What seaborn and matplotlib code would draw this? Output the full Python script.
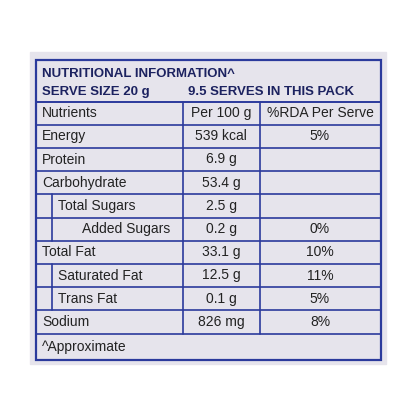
import matplotlib
matplotlib.use("Agg")
import matplotlib.pyplot as plt
import seaborn as sns

nutrients = ["Energy", "Protein", "Carbohydrate", "Total Sugars", "Added Sugars",
             "Total Fat", "Saturated Fat", "Trans Fat", "Sodium"]
per_100g = ["539 kcal", "6.9 g", "53.4 g", "2.5 g", "0.2 g",
            "33.1 g", "12.5 g", "0.1 g", "826 mg"]
rda_serve = ["5%", "", "", "", "0%", "10%", "11%", "5%", "8%"]
indent = [0, 0, 0, 1, 2, 0, 1, 1, 0]

sns.set_theme(style="white")
plt.rcParams['font.family'] = ['Liberation Sans', 'DejaVu Sans']

blue = "#2b3a9c"
fig = plt.figure(figsize=(4.16, 4.16), dpi=100)
ax = fig.add_axes([0, 0, 1, 1])
ax.set_xlim(0, 416)
ax.set_ylim(416, 0)
ax.axis("off")

# label background
ax.add_patch(plt.Rectangle((30, 52), 356, 312, color="#e6e4ec", zorder=0))

x0, c1, c2, x1 = 36, 183, 260, 381
ax.add_patch(plt.Rectangle((x0, 60), x1 - x0, 300, fill=False, ec=blue, lw=1.6))
ax.text(42, 74, "NUTRITIONAL INFORMATION^", fontsize=9.5, weight="bold", color="#1c2260", va="center")
ax.text(42, 92, "SERVE SIZE 20 g", fontsize=9.5, weight="bold", color="#1c2260", va="center")
ax.text(188, 92, "9.5 SERVES IN THIS PACK", fontsize=9.5, weight="bold", color="#1c2260", va="center")

top = 101.5
row_h = 23.2
ax.plot([x0, x1], [top, top], color=blue, lw=1.4)
ax.text(42, top + row_h / 2, "Nutrients", fontsize=10, color="#222", va="center")
ax.text(221, top + row_h / 2, "Per 100 g", fontsize=10, color="#222", va="center", ha="center")
ax.text(320, top + row_h / 2, "%RDA Per Serve", fontsize=10, color="#222", va="center", ha="center")

n = len(nutrients)
for i in range(n + 1):
    y = top + row_h * (i + 1)
    ax.plot([x0, x1], [y, y], color=blue, lw=1.2)

for i, name in enumerate(nutrients):
    yc = top + row_h * (i + 1.5)
    if indent[i]:
        xi = x0 + 16
        ax.plot([xi, xi], [yc - row_h / 2, yc + row_h / 2], color=blue, lw=1.2)
    ax.text(x0 + 6 + 16 * indent[i] + (8 if indent[i] == 2 else 0), yc, name,
            fontsize=10, color="#222", va="center")
    ax.text(221, yc, per_100g[i], fontsize=10, color="#222", va="center", ha="center")
    ax.text(320, yc, rda_serve[i], fontsize=10, color="#222", va="center", ha="center")

bottom = top + row_h * (n + 1)
for xc in (c1, c2):
    ax.plot([xc, xc], [top, bottom], color=blue, lw=1.2)
ax.text(42, (bottom + 360) / 2, "^Approximate", fontsize=10, color="#222", va="center")

fig.savefig("out.png", dpi=100, facecolor="white")
